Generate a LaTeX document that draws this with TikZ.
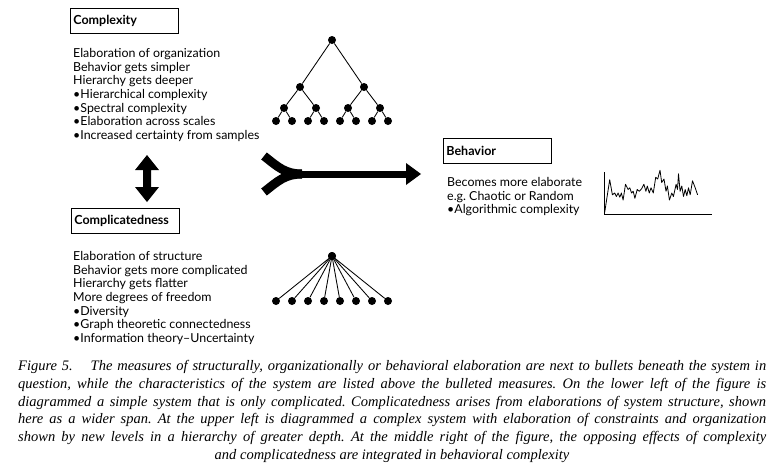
\documentclass[tikz,border=0pt]{standalone}
\usepackage{fontspec}
\newfontfamily\dfont{Lato}
\newfontfamily\cfont{Liberation Serif}
\newcommand{\capline}[1]{\hbox to 748pt{#1}}
\frenchspacing
\begin{document}
\begin{tikzpicture}[x=1pt,y=-1pt,
  hdbox/.style={draw, line width=0.8pt, text width=102pt, align=left, inner xsep=3pt, inner ysep=0pt,
    minimum height=25pt, anchor=north west, font=\dfont\fontsize{12.5}{13.7}\selectfont\bfseries},
  txt/.style={align=left, inner sep=0pt, anchor=north west, font=\dfont\fontsize{12.4}{13.7}\selectfont},
  treedot/.style={circle, fill, inner sep=0pt, minimum size=8pt},
  treeedge/.style={line width=0.85pt},
  captxt/.style={inner sep=0pt, anchor=base west, font=\cfont\itshape\fontsize{14.5}{17}\selectfont}]
\useasboundingbox (0,0) rectangle (777,466);
\fill[white] (0,0) rectangle (777,466);

% headings
\node[hdbox] (hcx) at (70,8) {Complexity};
\node[hdbox] (hcd) at (71,208) {Complicatedness};
\node[hdbox] (hbe) at (443,138) {Behavior};

% text blocks
\node[txt] (tcx) at (73,48) {Elaboration of organization\\Behavior gets simpler\\Hierarchy gets deeper\\%
•Hierarchical complexity\\•Spectral complexity\\•Elaboration across scales\\•Increased certainty from samples};
\node[txt] (tcd) at (73,251) {Elaboration of structure\\Behavior gets more complicated\\Hierarchy gets flatter\\%
More degrees of freedom\\•Diversity\\•Graph theoretic connectedness\\•Information theory–Uncertainty};
\node[txt] (tbe) at (447,177) {Becomes more elaborate\\e.g. Chaotic or Random\\•Algorithmic complexity};

% complexity tree
\node[treedot] (r) at (332,40) {};
\node[treedot] (a1) at (300,87) {};
\node[treedot] (a2) at (364,87) {};
\node[treedot] (b1) at (284,108) {};
\node[treedot] (b2) at (316,108) {};
\node[treedot] (b3) at (348,108) {};
\node[treedot] (b4) at (380,108) {};
\foreach \i/\x in {1/276,2/292,3/308,4/324,5/340,6/356,7/372,8/388}{
  \node[treedot] (c\i) at (\x,121) {};
  \node[treedot] (l\i) at (\x,301) {};
}
\node[treedot] (s) at (332,256) {};
\draw[treeedge] (r) -- (a1); \draw[treeedge] (r) -- (a2);
\draw[treeedge] (a1) -- (b1); \draw[treeedge] (a1) -- (b2);
\draw[treeedge] (a2) -- (b3); \draw[treeedge] (a2) -- (b4);
\draw[treeedge] (b1) -- (c1); \draw[treeedge] (b1) -- (c2);
\draw[treeedge] (b2) -- (c3); \draw[treeedge] (b2) -- (c4);
\draw[treeedge] (b3) -- (c5); \draw[treeedge] (b3) -- (c6);
\draw[treeedge] (b4) -- (c7); \draw[treeedge] (b4) -- (c8);
\foreach \i in {1,...,8}{\draw[treeedge] (s.center) -- (l\i);}
\node[treedot] at (s) {};

% vertical double arrow
\fill (147,155) -- (135,170) -- (143,170) -- (143,187) -- (135,187) -- (147,202)
  -- (159,187) -- (151,187) -- (151,170) -- (159,170) -- cycle;

% big merging arrow
\coordinate (fu) at (264,156);
\coordinate (fl) at (264,192);
\coordinate (fm) at (302,174);
\coordinate (fh) at (407,174);
\coordinate (ft) at (421,174);
\draw[line width=9pt] (fu) .. controls (278,167) and (285,174) .. (fm);
\draw[line width=9pt] (fl) .. controls (278,181) and (285,174) .. (fm);
\draw[line width=7pt] (296,174) -- (fh);
\fill (406,163) -- (ft) -- (406,185) -- cycle;

% chart
\coordinate (o) at (604,214);
\draw[line width=0.9pt] (604,172) -- (o) -- (712,214);
\draw[line width=0.8pt, line join=round] (604.7,212.3) -- (609.7,179.7) -- (612.4,194.8) -- (614.7,193) -- (616.4,196.5)
 -- (618.1,193) -- (619.8,197.2) -- (621.4,193) -- (623.1,200) -- (625.5,184.3) -- (628.1,189.5)
 -- (629.8,187.8) -- (631.5,193) -- (633.2,191.3) -- (634.9,198.3) -- (637.2,189.5) -- (639.2,191.3)
 -- (641.6,188.8) -- (643.9,184.3) -- (645.9,191.3) -- (647.3,186) -- (649.3,193) -- (651,187.8)
 -- (653.3,193) -- (655.7,177.3) -- (657.7,179) -- (660,170.3) -- (661.7,182.5) -- (664,179)
 -- (666,191.3) -- (667.4,186) -- (669.4,200) -- (671.8,193) -- (673.4,196.5) -- (676.1,184.3)
 -- (677.5,189.5) -- (678.5,173.8) -- (680.1,191.3) -- (681.8,186) -- (683.5,196.5) -- (685.2,189.5)
 -- (686.8,195.8) -- (688.5,187.8) -- (690.2,194.8) -- (692.5,180.8) -- (695.2,187.8) -- (697.6,194.8);

% caption
\node[captxt] (cap1) at (18,370) {\capline{Figure 5.\hspace{0.9em} The measures of structurally, organizationally or behavioral elaboration are next to bullets beneath the system in}};
\node[captxt] (cap2) at (18,388) {\capline{question, while the characteristics of the system are listed above the bulleted measures. On the lower left of the figure is}};
\node[captxt] (cap3) at (18,406) {\capline{diagrammed a simple system that is only complicated. Complicatedness arises from elaborations of system structure, shown}};
\node[captxt] (cap4) at (18,423.5) {\capline{here as a wider span. At the upper left is diagrammed a complex system with elaboration of constraints and organization}};
\node[captxt] (cap5) at (18,441) {\capline{shown by new levels in a hierarchy of greater depth. At the middle right of the figure, the opposing effects of complexity}};
\node[captxt, anchor=base] (cap6) at (392,459) {and complicatedness are integrated in behavioral complexity};
\end{tikzpicture}
\end{document}
